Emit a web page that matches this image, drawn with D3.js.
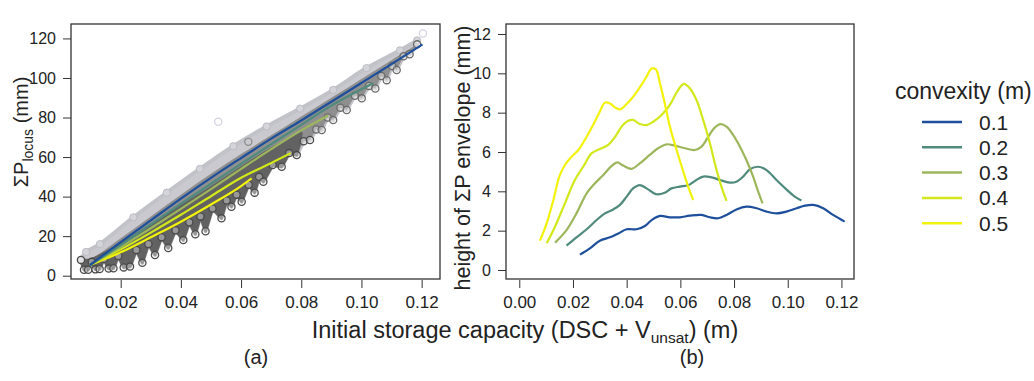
<!DOCTYPE html>
<html>
<head>
<meta charset="utf-8">
<script src="https://cdn.jsdelivr.net/npm/d3@7"></script>
<style>
body { margin: 0; background: #fff; }
svg { display: block; font-family: "Liberation Sans", Arial, sans-serif; }
.axis text { fill: #222; }
.axis line { stroke: #333; }
</style>
</head>
<body>
<svg id="chart" width="1034" height="381"></svg>
<script>
// ---- data ----
var convexity = ["0.1", "0.2", "0.3", "0.4", "0.5"];
var lineColors = ["#1e4f9c", "#4f8a7c", "#9db65c", "#d2e81a", "#f2f20c"];

var ticksA_x = [0.02, 0.04, 0.06, 0.08, 0.10, 0.12];
var ticksA_y = [0, 20, 40, 60, 80, 100, 120];
var ticksB_x = [0.00, 0.02, 0.04, 0.06, 0.08, 0.10, 0.12];
var ticksB_y = [0, 2, 4, 6, 8, 10, 12];

// (a) fitted lines, one per convexity
var locusX = [
    [0.0098, 0.02, 0.03, 0.04, 0.05, 0.06, 0.07, 0.08, 0.09, 0.10, 0.11, 0.1203],
    [0.0098, 0.02, 0.03, 0.04, 0.05, 0.06, 0.07, 0.08, 0.09, 0.1039],
    [0.0098, 0.02, 0.03, 0.04, 0.05, 0.06, 0.07, 0.08, 0.089],
    [0.0098, 0.02, 0.03, 0.04, 0.05, 0.06, 0.07, 0.0765],
    [0.0098, 0.02, 0.03, 0.04, 0.05, 0.06, 0.0635]
];
var locusY = [
    [5.4, 17, 28, 39, 49.5, 59.5, 69.3, 78.5, 88, 97.5, 107, 117],
    [5.4, 15.5, 26, 36.3, 46.5, 56.5, 66.5, 76.3, 86, 97.3],
    [5.4, 14.5, 24, 33.8, 43.8, 54, 64, 73.5, 81],
    [5.4, 13.3, 21.8, 30.8, 40.2, 49.5, 57, 62],
    [5.4, 11.8, 19.4, 27.3, 36, 45.3, 49.2]
];

// (a) scatter cloud: upper rim, middle and lower (toothed) edge
var cloudTopX = [0.0068, 0.0085, 0.0131, 0.0242, 0.0353, 0.0463, 0.0574, 0.0685, 0.0796, 0.0906, 0.1017, 0.1128, 0.1185];
var cloudTopY = [8, 12, 16, 29.5, 42, 54, 65.5, 75.5, 84.5, 94, 105, 114, 119];
var cloudCoreX = [0.0068, 0.0098, 0.02, 0.03, 0.04, 0.05, 0.06, 0.07, 0.08, 0.09, 0.10, 0.11, 0.1185];
var cloudCoreY = [8, 8.5, 19, 30, 41, 51.5, 61.5, 71, 80.5, 90, 99.5, 109, 117];
var cloudDarkX = [0.0068, 0.0098, 0.02, 0.03, 0.04, 0.05, 0.06, 0.07, 0.08];
var cloudDarkY = [8, 8, 16, 25.5, 35, 44.5, 54.5, 64, 72];
var cloudLowX = [0.0068, 0.0078, 0.0092, 0.0104, 0.0116, 0.0130, 0.0144, 0.0160, 0.0176, 0.0192,
    0.0210, 0.0231, 0.0252, 0.0272, 0.0292, 0.0314, 0.0336, 0.0358, 0.0382, 0.0408,
    0.0428, 0.0448, 0.0465, 0.0482, 0.0505, 0.0535, 0.0552, 0.0568, 0.0585, 0.0602,
    0.0625, 0.0645, 0.0660, 0.0674, 0.0705, 0.0735, 0.0760, 0.0785, 0.0808, 0.0829,
    0.0850, 0.0868, 0.0888, 0.0906, 0.0930, 0.0951, 0.0978, 0.1001, 0.1025, 0.1046,
    0.1066, 0.1084, 0.1102, 0.1117, 0.1140, 0.1160, 0.1185];
var cloudLowY = [8, 3, 3, 7, 3.2, 3.4, 8.5, 3.6, 3.8, 10,
    4.2, 4.6, 13, 6.5, 16, 10.5, 19.5, 14, 23, 18,
    27, 21, 30, 22.5, 34, 29, 38, 34.9, 41, 37.4,
    46, 42, 50, 47.5, 56, 55.1, 62, 61, 68, 68.6,
    74, 73.7, 80, 78.7, 85, 83.8, 91, 89.7, 96, 94.7,
    101, 98.9, 106, 104, 111, 112, 117];
var strayX = [0.0524, 0.0624, 0.1204];
var strayY = [77.9, 67.7, 122.5];

// (b) envelope height, one per convexity
var envX = [
    [0.0226, 0.0263, 0.0300, 0.0338, 0.0369, 0.0400, 0.0437, 0.0468, 0.0493, 0.0524, 0.0561, 0.0598, 0.0635, 0.0679, 0.0710, 0.0741, 0.0772, 0.0809, 0.0846, 0.0884, 0.0921, 0.0958, 0.0995, 0.1033, 0.1064, 0.1095, 0.1132, 0.1169, 0.1212],
    [0.0176, 0.0213, 0.0251, 0.0288, 0.0319, 0.0350, 0.0375, 0.0400, 0.0424, 0.0449, 0.0474, 0.0511, 0.0542, 0.0567, 0.0598, 0.0629, 0.0660, 0.0685, 0.0716, 0.0747, 0.0784, 0.0809, 0.0834, 0.0859, 0.0890, 0.0921, 0.0958, 0.0995, 0.1026, 0.1051],
    [0.0133, 0.0176, 0.0213, 0.0251, 0.0282, 0.0313, 0.0344, 0.0365, 0.0387, 0.0418, 0.0449, 0.0486, 0.0517, 0.0549, 0.0580, 0.0617, 0.0654, 0.0679, 0.0704, 0.0728, 0.0750, 0.0772, 0.0797, 0.0822, 0.0846, 0.0871, 0.0890, 0.0906],
    [0.0102, 0.0133, 0.0170, 0.0207, 0.0238, 0.0269, 0.0300, 0.0331, 0.0356, 0.0381, 0.0406, 0.0424, 0.0449, 0.0474, 0.0499, 0.0530, 0.0561, 0.0588, 0.0613, 0.0635, 0.0660, 0.0685, 0.0710, 0.0735, 0.0757, 0.0772],
    [0.0077, 0.0102, 0.0127, 0.0149, 0.0170, 0.0195, 0.0220, 0.0244, 0.0275, 0.0300, 0.0319, 0.0338, 0.0356, 0.0375, 0.0400, 0.0424, 0.0449, 0.0474, 0.0493, 0.0509, 0.0524, 0.0542, 0.0561, 0.0586, 0.0611, 0.0629, 0.0648]
];
var envY = [
    [0.78, 1.10, 1.49, 1.66, 1.86, 2.07, 2.07, 2.24, 2.54, 2.75, 2.68, 2.68, 2.76, 2.80, 2.68, 2.63, 2.80, 3.08, 3.22, 3.14, 2.97, 2.88, 2.97, 3.14, 3.27, 3.31, 3.14, 2.80, 2.46],
    [1.24, 1.66, 2.07, 2.54, 2.88, 3.08, 3.31, 3.73, 4.15, 4.32, 4.15, 3.85, 3.93, 4.15, 4.24, 4.31, 4.58, 4.75, 4.71, 4.58, 4.44, 4.49, 4.75, 5.12, 5.25, 5.08, 4.58, 4.10, 3.73, 3.53],
    [1.39, 2.03, 2.88, 3.90, 4.41, 4.83, 5.29, 5.47, 5.31, 5.14, 5.42, 5.85, 6.19, 6.39, 6.32, 6.19, 6.10, 6.27, 6.78, 7.24, 7.42, 7.29, 6.86, 6.27, 5.59, 4.75, 3.98, 3.39],
    [1.36, 2.20, 3.39, 4.58, 5.25, 5.93, 6.15, 6.36, 6.75, 7.29, 7.59, 7.63, 7.42, 7.37, 7.54, 7.88, 8.39, 9.07, 9.46, 9.24, 8.64, 7.63, 6.44, 5.08, 4.07, 3.51],
    [1.49, 2.37, 3.56, 4.75, 5.34, 5.76, 6.10, 6.61, 7.37, 8.05, 8.51, 8.47, 8.27, 8.17, 8.44, 8.81, 9.29, 9.83, 10.25, 10.2, 9.49, 8.47, 7.29, 6.10, 5.00, 4.24, 3.56]
];

// ---- layout ----
var svg = d3.select("#chart");
svg.append("rect").attr("width", 1034).attr("height", 381).attr("fill", "#fff");

var boxA = {left: 71, right: 440, top: 24, bottom: 279};
var boxB = {left: 506, right: 854, top: 24, bottom: 279};

var xA = d3.scaleLinear().domain([0.00349, 0.1261]).range([boxA.left, boxA.right]);
var yA = d3.scaleLinear().domain([-1.67, 127.3]).range([boxA.bottom, boxA.top]);
var xB = d3.scaleLinear().domain([-0.00495, 0.12468]).range([boxB.left, boxB.right]);
var yB = d3.scaleLinear().domain([-0.458, 12.508]).range([boxB.bottom, boxB.top]);

function zipPts(xs, ys) {
    return xs.map(function(v, i) { return [v, ys[i]]; });
}

function drawAxes(box, x, y, xt, yt, xfmt, yfmt) {
    svg.append("g")
        .attr("class", "axis")
        .attr("transform", "translate(0," + (box.bottom + 1) + ")")
        .call(d3.axisBottom(x).tickValues(xt).tickSize(8).tickPadding(8).tickFormat(xfmt))
        .call(function(g) {
            g.select(".domain").remove();
            g.selectAll("text").attr("font-size", 17).attr("font-family", "Liberation Sans, Arial, sans-serif");
        });
    svg.append("g")
        .attr("class", "axis")
        .attr("transform", "translate(" + box.left + ",0)")
        .call(d3.axisLeft(y).tickValues(yt).tickSize(8).tickPadding(7).tickFormat(yfmt))
        .call(function(g) {
            g.select(".domain").remove();
            g.selectAll("text").attr("font-size", 16).attr("font-family", "Liberation Sans, Arial, sans-serif");
        });
}

// ---- panel (a) ----
svg.append("clipPath").attr("id", "clipA").append("rect")
    .attr("x", boxA.left).attr("y", boxA.top)
    .attr("width", boxA.right - boxA.left).attr("height", boxA.bottom - boxA.top);

var gA = svg.append("g").attr("clip-path", "url(#clipA)");

var poly = d3.line()
    .x(function(d) { return xA(d[0]); })
    .y(function(d) { return yA(d[1]); })
    .curve(d3.curveCatmullRom);

var lowPts = zipPts(cloudLowX, cloudLowY);

function cloudShape(topPts, lowSet) {
    var lower = lowSet.slice().reverse();
    return poly(topPts) + "L" + d3.line().x(function(d) { return xA(d[0]); })
        .y(function(d) { return yA(d[1]); }).curve(d3.curveLinear)(lower).slice(1) + "Z";
}

// light rim of the cloud
gA.append("path")
    .attr("d", cloudShape(zipPts(cloudTopX, cloudTopY), lowPts))
    .attr("fill", "#c9c9cf")
    .attr("stroke", "#c2c2c9")
    .attr("stroke-width", 4)
    .attr("stroke-linejoin", "round");

// grey core
gA.append("path")
    .attr("d", cloudShape(zipPts(cloudCoreX, cloudCoreY), lowPts))
    .attr("fill", "#8f8f8f");

// dark lower part
var darkLow = lowPts.filter(function(d) { return d[0] <= 0.08; });
gA.append("path")
    .attr("d", cloudShape(zipPts(cloudDarkX, cloudDarkY), darkLow))
    .attr("fill", "#626262")
    .attr("stroke", "#626262")
    .attr("stroke-width", 3)
    .attr("stroke-linejoin", "round");

// open circles along the edges of the cloud
gA.selectAll("circle.top")
    .data(zipPts(cloudTopX, cloudTopY))
    .enter().append("circle")
    .attr("cx", function(d) { return xA(d[0]); })
    .attr("cy", function(d) { return yA(d[1]); })
    .attr("r", 3.6)
    .attr("fill", "#d4d4da")
    .attr("stroke", "#bcbcc4")
    .attr("stroke-width", 1);

gA.selectAll("circle.low")
    .data(lowPts)
    .enter().append("circle")
    .attr("cx", function(d) { return xA(d[0]); })
    .attr("cy", function(d) { return yA(d[1]); })
    .attr("r", 3.6)
    .attr("fill", "#fff")
    .attr("fill-opacity", 0.35)
    .attr("stroke", function(d) { return d[0] < 0.085 ? "#4a4a4a" : "#6a6a6a"; })
    .attr("stroke-width", 1.3);

gA.selectAll("circle.stray")
    .data(zipPts(strayX, strayY))
    .enter().append("circle")
    .attr("cx", function(d) { return xA(d[0]); })
    .attr("cy", function(d) { return yA(d[1]); })
    .attr("r", 3.6)
    .attr("fill", "none")
    .attr("stroke", function(d, i) { return i == 1 ? "#8a8a8a" : "#d6d0e0"; })
    .attr("stroke-width", 1.2);

// fitted lines
var lineA = d3.line()
    .x(function(d) { return xA(d[0]); })
    .y(function(d) { return yA(d[1]); })
    .curve(d3.curveMonotoneX);

for (var i = locusX.length - 1; i >= 0; i--) {
    gA.append("path")
        .attr("d", lineA(zipPts(locusX[i], locusY[i])))
        .attr("fill", "none")
        .attr("stroke", lineColors[i])
        .attr("stroke-width", 2.2);
}

svg.append("rect")
    .attr("x", boxA.left).attr("y", boxA.top)
    .attr("width", boxA.right - boxA.left).attr("height", boxA.bottom - boxA.top)
    .attr("fill", "none").attr("stroke", "#333").attr("stroke-width", 1.3);

drawAxes(boxA, xA, yA, ticksA_x, ticksA_y, d3.format(".2f"), d3.format("d"));

// ---- panel (b) ----
var lineB = d3.line()
    .x(function(d) { return xB(d[0]); })
    .y(function(d) { return yB(d[1]); })
    .curve(d3.curveCatmullRom);

for (var j = 0; j < envX.length; j++) {
    svg.append("path")
        .attr("d", lineB(zipPts(envX[j], envY[j])))
        .attr("fill", "none")
        .attr("stroke", lineColors[j])
        .attr("stroke-width", 2.2)
        .attr("stroke-linejoin", "round");
}

svg.append("rect")
    .attr("x", boxB.left).attr("y", boxB.top)
    .attr("width", boxB.right - boxB.left).attr("height", boxB.bottom - boxB.top)
    .attr("fill", "none").attr("stroke", "#333").attr("stroke-width", 1.3);

drawAxes(boxB, xB, yB, ticksB_x, ticksB_y, d3.format(".2f"), d3.format("d"));

// ---- titles ----
var yTitleA = svg.append("text")
    .attr("transform", "translate(28,132) rotate(-90)")
    .attr("text-anchor", "middle")
    .attr("font-size", 20)
    .attr("fill", "#222");
yTitleA.append("tspan").text("ΣP");
yTitleA.append("tspan").attr("font-size", 14).attr("dy", 5).text("locus");
yTitleA.append("tspan").attr("dy", -5).text(" (mm)");

svg.append("text")
    .attr("transform", "translate(470,158) rotate(-90)")
    .attr("text-anchor", "middle")
    .attr("font-size", 21.5)
    .attr("fill", "#222")
    .text("height of ΣP envelope (mm)");

var xTitle = svg.append("text")
    .attr("x", 525).attr("y", 338)
    .attr("text-anchor", "middle")
    .attr("font-size", 23.5)
    .attr("fill", "#222");
xTitle.append("tspan").text("Initial storage capacity (DSC + V");
xTitle.append("tspan").attr("font-size", 15.5).attr("dy", 5).text("unsat");
xTitle.append("tspan").attr("dy", -5).text(") (m)");

svg.append("text").attr("x", 256).attr("y", 364).attr("text-anchor", "middle")
    .attr("font-size", 20).attr("fill", "#222").text("(a)");
svg.append("text").attr("x", 692).attr("y", 364).attr("text-anchor", "middle")
    .attr("font-size", 20).attr("fill", "#222").text("(b)");

// ---- legend ----
svg.append("text")
    .attr("x", 895).attr("y", 99)
    .attr("font-size", 23)
    .attr("fill", "#222")
    .text("convexity (m)");

var legend = svg.selectAll("g.legend")
    .data(convexity)
    .enter().append("g")
    .attr("transform", function(d, i) { return "translate(922," + (122 + i * 25.3) + ")"; });

legend.append("line")
    .attr("x1", 0).attr("x2", 40)
    .attr("stroke", function(d, i) { return lineColors[i]; })
    .attr("stroke-width", 2.5);

legend.append("text")
    .attr("x", 57).attr("dy", "0.36em")
    .attr("font-size", 21)
    .attr("fill", "#222")
    .text(function(d) { return d; });
</script>
</body>
</html>
